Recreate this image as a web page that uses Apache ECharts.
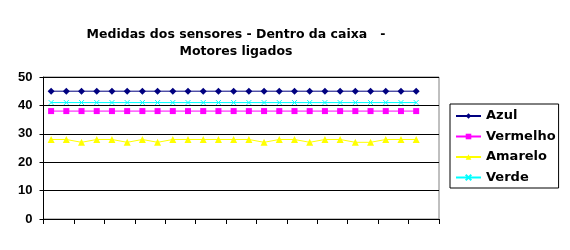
<!DOCTYPE html>
<html>
<head>
<meta charset="utf-8">
<script src="https://cdn.jsdelivr.net/npm/echarts@6/dist/echarts.min.js"></script>
<style>html,body{margin:0;padding:0;background:#fff}#c{width:570px;height:250px}</style>
</head>
<body>
<div id="c"></div>
<script>
var categories = ['1','2','3','4','5','6','7','8','9','10','11','12','13','14','15','16','17','18','19','20','21','22','23','24','25','26'];
var azul     = [45,45,45,45,45,45,45,45,45,45,45,45,45,45,45,45,45,45,45,45,45,45,45,45,45,null];
var vermelho = [38,38,38,38,38,38,38,38,38,38,38,38,38,38,38,38,38,38,38,38,38,38,38,38,38,null];
var amarelo  = [28,28,27,28,28,27,28,27,28,28,28,28,28,28,27,28,28,27,28,28,27,27,28,28,28,null];
var verde    = [41,41,41,41,41,41,41,41,41,41,41,41,41,41,41,41,41,41,41,41,41,41,41,41,41,null];
var yTicks = [0,10,20,30,40,50];

var fontWide = 'DejaVu Sans, Verdana, sans-serif';
var font = 'Liberation Sans, Arial, sans-serif';
var xPath = 'path://M0,0L10,10M10,0L0,10';
var chart = echarts.init(document.getElementById('c'), null, {renderer:'canvas'});
chart.setOption({
  backgroundColor:'#fff',
  animation:false,
  title:{
    text:'Medidas dos sensores - Dentro da caixa   -\nMotores ligados',
    left:231, top:21, textAlign:'center',
    textStyle:{fontFamily:fontWide, fontSize:12.5, fontWeight:'bold', color:'#000', lineHeight:17}
  },
  legend:{
    orient:'vertical', left:450, top:104,
    backgroundColor:'#fff', borderColor:'#000', borderWidth:1,
    padding:[4.5,3,3,5], itemGap:5.5, itemWidth:25, itemHeight:7,
    textStyle:{fontFamily:fontWide, fontSize:13, fontWeight:'bold', color:'#000', lineHeight:15},
    data:['Azul','Vermelho','Amarelo','Verde']
  },
  grid:{left:43.5, right:131, top:77, bottom:31, show:true, borderColor:'#808080', borderWidth:1, backgroundColor:'transparent'},
  xAxis:{
    type:'category', data:categories, boundaryGap:true,
    axisLine:{lineStyle:{color:'#000', width:1}},
    axisTick:{show:true, inside:false, length:5, lineStyle:{color:'#000'}},
    axisLabel:{show:false}, splitLine:{show:false}
  },
  yAxis:{
    type:'value', min:yTicks[0], max:yTicks[yTicks.length-1], interval:10,
    axisLine:{show:true, lineStyle:{color:'#000', width:1}},
    axisTick:{show:true, length:4, lineStyle:{color:'#000'}},
    axisLabel:{fontFamily:font, fontSize:13, fontWeight:'bold', color:'#000', margin:11},
    splitLine:{show:true, lineStyle:{color:'#000', width:1}}
  },
  series:[
    {name:'Azul', type:'line', data:azul, symbol:'diamond', symbolSize:7, showAllSymbol:true,
     itemStyle:{color:'#000080'}, lineStyle:{color:'#000080', width:1}},
    {name:'Vermelho', type:'line', data:vermelho, symbol:'rect', symbolSize:6, showAllSymbol:true,
     itemStyle:{color:'#FF00FF'}, lineStyle:{color:'#FF00FF', width:1}},
    {name:'Amarelo', type:'line', data:amarelo, symbol:'triangle', symbolSize:7, showAllSymbol:true,
     itemStyle:{color:'#FFFF00'}, lineStyle:{color:'#FFFF00', width:1}},
    {name:'Verde', type:'line', data:verde, symbol:xPath, symbolSize:5, showAllSymbol:true,
     itemStyle:{color:'none', borderColor:'#00FFFF', borderWidth:1}, lineStyle:{color:'#00FFFF', width:1}}
  ]
});
</script>
</body>
</html>
